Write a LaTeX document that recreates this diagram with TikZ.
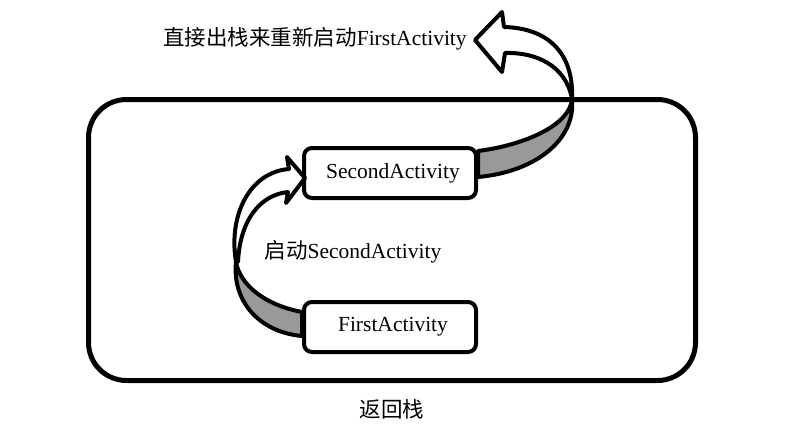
\documentclass[tikz,border=0pt]{standalone}
\usepackage{fontspec}
\setmainfont{Liberation Serif}
\newfontfamily\cjk{Noto Sans CJK SC}
\usetikzlibrary{positioning}

\begin{document}
\begin{tikzpicture}[x=1pt,y=-1pt,line join=round,font=\fontsize{21.5}{26}\selectfont]
\tikzstyle{stack}=[rectangle,rounded corners=38pt,line width=5pt,draw=black,minimum width=607pt,minimum height=281pt]
\tikzstyle{act}=[rectangle,rounded corners=8pt,line width=4pt,draw=black,fill=white,minimum width=172pt,minimum height=50pt,inner sep=0pt]
\tikzstyle{band}=[line width=4pt,draw=black,fill=black!40]
\tikzstyle{face}=[line width=4pt,draw=black,fill=white]
\useasboundingbox (0,0) rectangle (787,436);
\node [stack] (stack) at (392,240) {};
\node (stacklabel) [below=13pt of stack] {{\cjk 返回栈}};
\node [act] (second) at (390,173) {\hspace{6pt}SecondActivity};
\node [act] (first) [below=100pt of second] {\hspace{6pt}FirstActivity};
\node (launch) at (353,252) {{\cjk 启动}SecondActivity};
\node (restart) at (315,39) {{\cjk 直接出栈来重新启动}FirstActivity};
% start SecondActivity
\draw [band] (first.west |- 0,312) .. controls (265,305) and (240,285) .. (236,262)
  .. controls (232,300) and (258,332) .. (first.west |- 0,336) -- cycle;
\draw [face] (236,262) .. controls (228,215) and (250,172) .. (289,169) -- (287,157)
  -- (305,178) -- (286,203) -- (288,192) .. controls (260,195) and (240,220) .. (238,262) -- cycle;
% pop back to FirstActivity
\draw [band] (second.east |- 0,151) .. controls (525,145) and (570,125) .. (572,99)
  .. controls (576,140) and (535,172) .. (second.east |- 0,177) -- cycle;
\draw [face] (572,99) .. controls (574,50) and (545,28) .. (504,27) -- (502,12)
  -- (475,40) -- (502,72) -- (505,53) .. controls (535,52) and (566,65) .. (572,99) -- cycle;
\end{tikzpicture}
\end{document}
